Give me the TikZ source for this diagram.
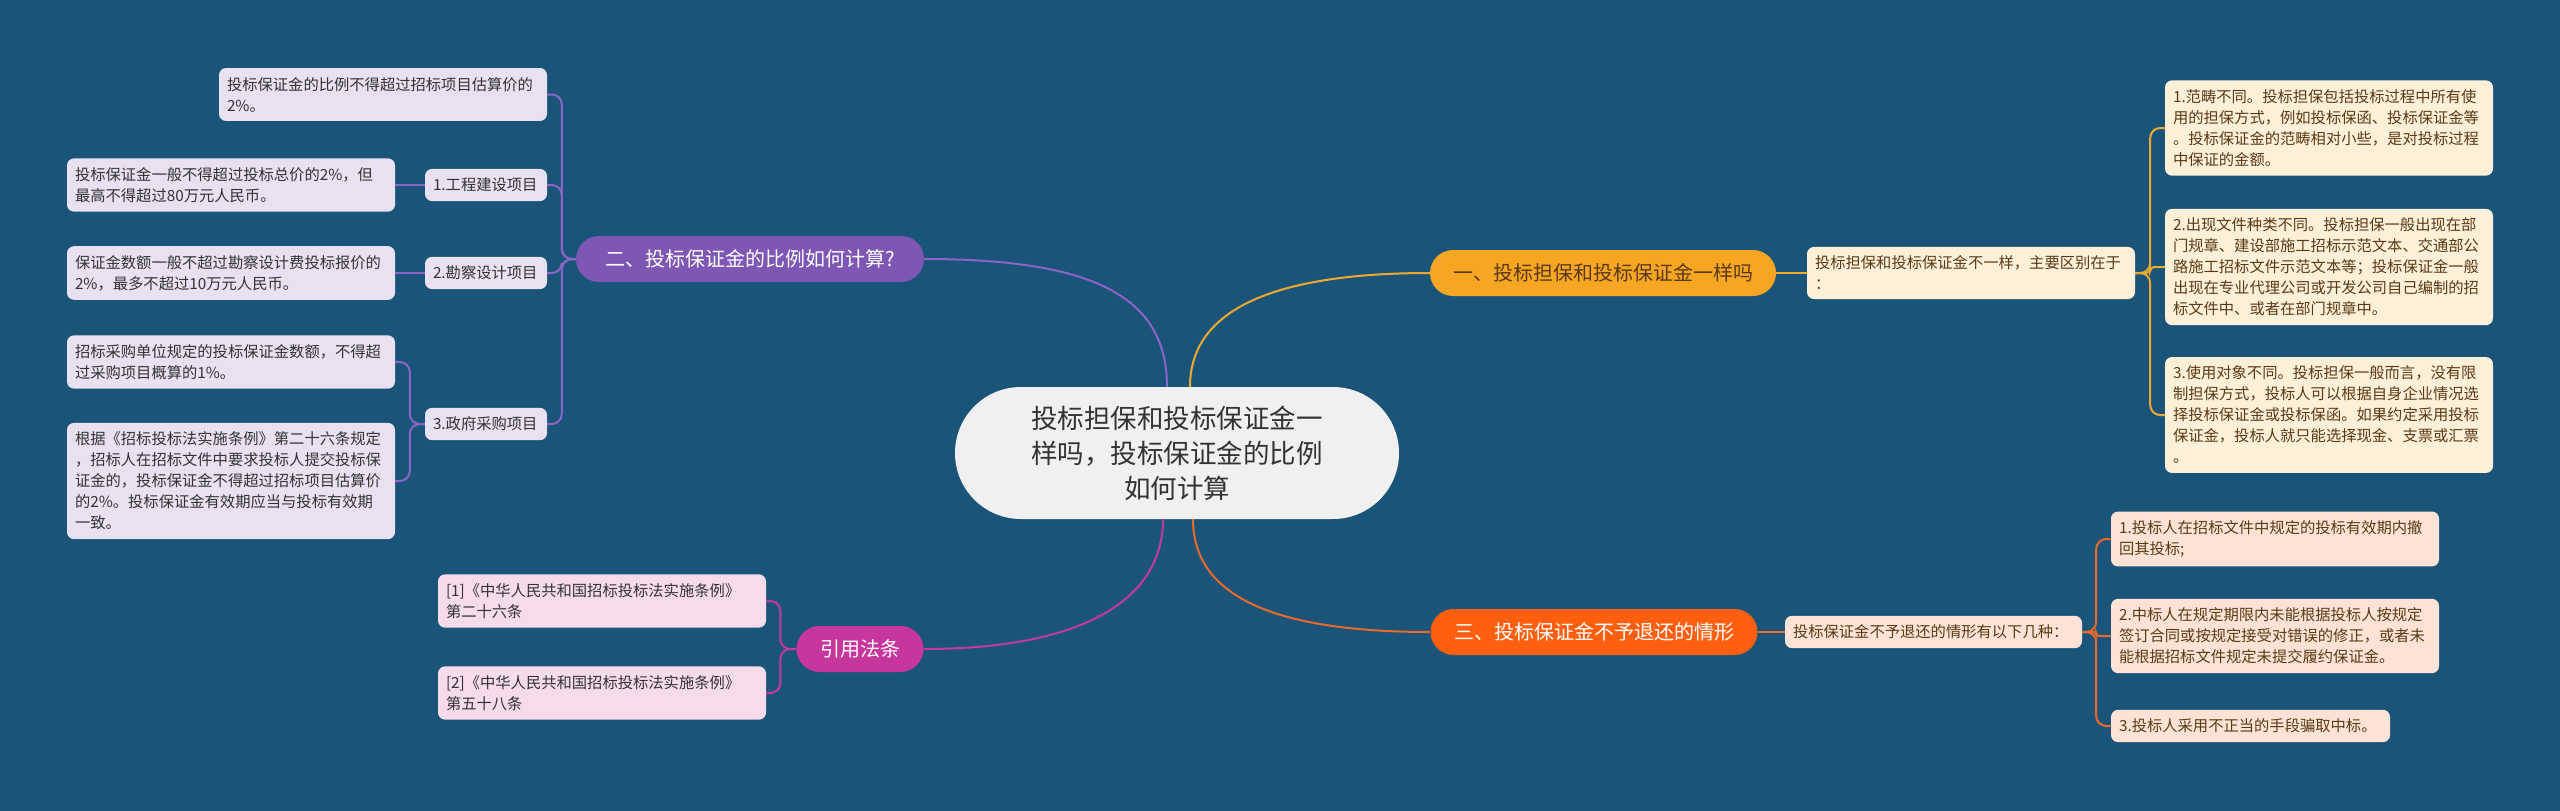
\documentclass[tikz,border=0pt]{standalone}
\usepackage{fontspec}
\setmainfont{Noto Sans CJK SC}
\usepackage{tikz}
\usepackage{xcolor}

\definecolor{bgblue}{HTML}{1B5479}
\definecolor{rootfill}{HTML}{F0F0F0}
\definecolor{purpmain}{HTML}{7E56B4}
\definecolor{purpline}{HTML}{8B65C4}
\definecolor{purpleaf}{HTML}{E7E1F1}
\definecolor{ornmain}{HTML}{F6A623}
\definecolor{ornline}{HTML}{EFA92F}
\definecolor{ornleaf}{HTML}{FDF0D8}
\definecolor{redmain}{HTML}{FF5F0E}
\definecolor{redline}{HTML}{E96A2A}
\definecolor{redleaf}{HTML}{FDE3D6}
\definecolor{magmain}{HTML}{C6369C}
\definecolor{magline}{HTML}{C23B9B}
\definecolor{magleaf}{HTML}{F6DBEB}
\definecolor{darktxt}{HTML}{333333}
\definecolor{browntxt}{HTML}{5A3A16}

\begin{document}
\begin{tikzpicture}[x=1pt, y=-1pt,
  leafbox/.style={rounded corners=7pt, inner xsep=8pt, inner ysep=9pt, text width=312pt, align=left, font=\fontsize{15.3}{21}\selectfont},
  branchbox/.style={rounded corners=23pt, minimum height=46pt, inner xsep=0pt, font=\fontsize{20}{24}\selectfont, align=center},
  mainline/.style={line width=2pt}]

\fill[bgblue] (0,0) rectangle (2560,811);
\useasboundingbox (0,0) rectangle (2560,811);

% ===== Root =====

\node[fill=rootfill, rounded corners=66pt, minimum width=444pt, minimum height=132pt, text width=330pt, align=center, text=darktxt, font=\fontsize{26.5}{35}\selectfont] (root) at (1177,453) {投标担保和投标保证金一\\样吗，投标保证金的比例\\如何计算};

% ===== Branch two =====

\node[branchbox, fill=purpmain, text=white, minimum width=348pt] (two) at (750,259) {二、投标保证金的比例如何计算?};

\node[leafbox, fill=purpleaf, text=darktxt] (twotop) at (383,94.5) {投标保证金的比例不得超过招标项目估算价的\\2\%。};
\node[leafbox, fill=purpleaf, text=darktxt, text width=106pt] (twoa) at (486,185) {1.工程建设项目};
\node[leafbox, fill=purpleaf, text=darktxt, text width=106pt] (twob) at (486,273) {2.勘察设计项目};
\node[leafbox, fill=purpleaf, text=darktxt, text width=106pt] (twoc) at (486,424) {3.政府采购项目};

\node[leafbox, fill=purpleaf, text=darktxt] (twoaleaf) at (231,185) {投标保证金一般不得超过投标总价的2\%，但\\最高不得超过80万元人民币。};
\node[leafbox, fill=purpleaf, text=darktxt] (twobleaf) at (231,273) {保证金数额一般不超过勘察设计费投标报价的\\2\%，最多不超过10万元人民币。};
\node[leafbox, fill=purpleaf, text=darktxt] (twocleaf) at (231,362) {招标采购单位规定的投标保证金数额，不得超\\过采购项目概算的1\%。};
\node[leafbox, fill=purpleaf, text=darktxt] (twocrule) at (231,481) {根据《招标投标法实施条例》第二十六条规定\\，招标人在招标文件中要求投标人提交投标保\\证金的，投标保证金不得超过招标项目估算价\\的2\%。投标保证金有效期应当与投标有效期\\一致。};

% ===== Branch one =====

\node[branchbox, fill=ornmain, text=browntxt, minimum width=346pt] (one) at (1603,273) {一、投标担保和投标保证金一样吗};

\node[leafbox, fill=ornleaf, text=browntxt] (onesub) at (1971,273) {投标担保和投标保证金不一样，主要区别在于\\：};

\node[leafbox, fill=ornleaf, text=browntxt] (onea) at (2329,128) {1.范畴不同。投标担保包括投标过程中所有使\\用的担保方式，例如投标保函、投标保证金等\\。投标保证金的范畴相对小些，是对投标过程\\中保证的金额。};
\node[leafbox, fill=ornleaf, text=browntxt] (oneb) at (2329,267) {2.出现文件种类不同。投标担保一般出现在部\\门规章、建设部施工招标示范文本、交通部公\\路施工招标文件示范文本等；投标保证金一般\\出现在专业代理公司或开发公司自己编制的招\\标文件中、或者在部门规章中。};
\node[leafbox, fill=ornleaf, text=browntxt] (onec) at (2329,415) {3.使用对象不同。投标担保一般而言，没有限\\制担保方式，投标人可以根据自身企业情况选\\择投标保证金或投标保函。如果约定采用投标\\保证金，投标人就只能选择现金、支票或汇票\\。};

% ===== Branch three =====

\node[branchbox, fill=redmain, text=white, minimum width=327pt] (three) at (1594,632) {三、投标保证金不予退还的情形};

\node[leafbox, fill=redleaf, text=browntxt, text width=281pt] (threesub) at (1933.5,632) {投标保证金不予退还的情形有以下几种：};

\node[leafbox, fill=redleaf, text=browntxt] (threea) at (2275,539) {1.投标人在招标文件中规定的投标有效期内撤\\回其投标;};
\node[leafbox, fill=redleaf, text=browntxt] (threeb) at (2275,636) {2.中标人在规定期限内未能根据投标人按规定\\签订合同或按规定接受对错误的修正，或者未\\能根据招标文件规定未提交履约保证金。};
\node[leafbox, fill=redleaf, text=browntxt, text width=263pt] (threec) at (2250.5,726) {3.投标人采用不正当的手段骗取中标。};

% ===== Citations =====

\node[branchbox, fill=magmain, text=white, minimum width=127pt] (cite) at (860,649) {引用法条};

\node[leafbox, fill=magleaf, text=darktxt] (citea) at (602,601) {[1]《中华人民共和国招标投标法实施条例》\\第二十六条};
\node[leafbox, fill=magleaf, text=darktxt] (citeb) at (602,693) {[2]《中华人民共和国招标投标法实施条例》\\第五十八条};

% ===== Wires =====

\draw[purpline, mainline] ([xshift=-10pt]root.north) .. controls +(0,-90) and +(170,0) .. (two.east);
\draw[ornline, mainline] ([xshift=13pt]root.north) .. controls +(0,-80) and +(-150,0) .. (one.west);
\draw[redline, mainline] ([xshift=16pt]root.south) .. controls +(0,80) and +(-150,0) .. (three.west);
\draw[magline, mainline] ([xshift=-14pt]root.south) .. controls +(0,80) and +(160,0) .. (cite.east);

\draw[purpline, mainline, rounded corners=10pt] (two.west) -- ++(-14,0) |- (twotop.east);
\draw[purpline, mainline, rounded corners=10pt] (two.west) -- ++(-14,0) |- (twoa.east);
\draw[purpline, mainline, rounded corners=10pt] (two.west) -- ++(-14,0) |- (twob.east);
\draw[purpline, mainline, rounded corners=10pt] (two.west) -- ++(-14,0) |- (twoc.east);
\draw[purpline, mainline] (twoa.west) -- (twoaleaf.east);
\draw[purpline, mainline] (twob.west) -- (twobleaf.east);
\draw[purpline, mainline, rounded corners=10pt] (twoc.west) -- ++(-15,0) |- (twocleaf.east);
\draw[purpline, mainline, rounded corners=10pt] (twoc.west) -- ++(-15,0) |- (twocrule.east);

\draw[ornline, mainline] (one.east) -- (onesub.west);
\draw[ornline, mainline, rounded corners=10pt] (onesub.east) -- ++(15,0) |- (onea.west);
\draw[ornline, mainline, rounded corners=4pt] (onesub.east) -- ++(15,0) |- (oneb.west);
\draw[ornline, mainline, rounded corners=10pt] (onesub.east) -- ++(15,0) |- (onec.west);

\draw[redline, mainline] (three.east) -- (threesub.west);
\draw[redline, mainline, rounded corners=10pt] (threesub.east) -- ++(14,0) |- (threea.west);
\draw[redline, mainline, rounded corners=3pt] (threesub.east) -- ++(14,0) |- (threeb.west);
\draw[redline, mainline, rounded corners=10pt] (threesub.east) -- ++(14,0) |- (threec.west);

\draw[magline, mainline, rounded corners=10pt] (cite.west) -- ++(-16,0) |- (citea.east);
\draw[magline, mainline, rounded corners=10pt] (cite.west) -- ++(-16,0) |- (citeb.east);

\end{tikzpicture}
\end{document}
